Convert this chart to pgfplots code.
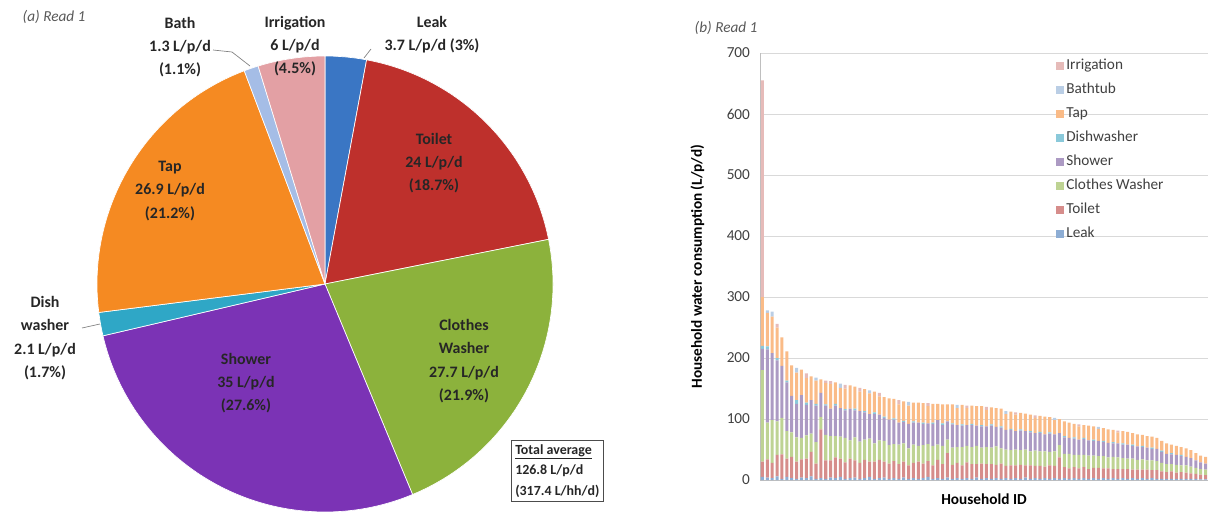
\documentclass[border=0pt]{standalone}
\usepackage{fontspec}
\setmainfont{Carlito}
\usepackage{pgfplots}
\usepackage{pgfplotstable}
\pgfplotsset{compat=1.18}

% pie colours
\definecolor{pLeak}{HTML}{3A76C4}
\definecolor{pToilet}{HTML}{BE302C}
\definecolor{pCW}{HTML}{8CB23C}
\definecolor{pShower}{HTML}{7B33B5}
\definecolor{pDish}{HTML}{2FA7C6}
\definecolor{pTap}{HTML}{F58A22}
\definecolor{pBath}{HTML}{A5BDE6}
\definecolor{pIrr}{HTML}{E3A0A4}
% bar colours
\definecolor{bLeak}{HTML}{4F81BD}
\definecolor{bToilet}{HTML}{C0504D}
\definecolor{bCW}{HTML}{9BBB59}
\definecolor{bShower}{HTML}{8064A2}
\definecolor{bDish}{HTML}{4BACC6}
\definecolor{bTap}{HTML}{F79646}
\definecolor{bBath}{HTML}{95B3D7}
\definecolor{bIrr}{HTML}{D99694}
\definecolor{gridgrey}{HTML}{D9D9D9}
\definecolor{axisgrey}{HTML}{BFBFBF}
\definecolor{tickgrey}{HTML}{404040}
\definecolor{labeltxt}{HTML}{262626}

% average use per end use, L/p/d
\def\vLeak{3.7}
\def\vToilet{24}
\def\vCW{27.7}
\def\vShower{35}
\def\vDish{2.1}
\def\vTap{26.9}
\def\vBath{1.3}
\def\vIrr{6}

% per household stacked use, L/p/d
\pgfplotstableread{
id leak toilet cw shower dish tap bath irr
1 5 25 150 35 5 80 0 355
2 4 30 60 120 5 55 4 0
3 3 25 70 110 0 60 8 0
4 6 35 55 100 4 50 0 6
5 2 40 60 85 0 47 0 0
6 5 30 45 80 3 48 0 0
7 3 35 40 60 0 50 0 0
8 2 28 40 55 6 45 8 0
9 4 30 35 70 0 42 0 0
10 3 32 38 50 4 40 0 8
11 6 40 30 55 0 39 0 0
12 2 25 35 60 3 38 5 0
13 3 80 20 40 0 22 0 0
14 2 30 42 48 2 35 0 4
15 4 28 40 45 0 40 0 5
16 3 34 35 50 3 35 0 0
17 5 30 36 47 0 33 7 0
18 2 27 40 45 2 34 0 6
19 3 32 30 52 0 38 0 0
20 4 28 38 44 3 36 0 0
21 2 26 35 50 0 32 0 6
22 3 30 33 45 2 36 0 0
23 5 25 38 40 0 34 5 0
24 2 28 30 48 3 34 0 0
25 3 30 32 42 0 30 0 6
26 4 26 34 38 2 32 0 0
27 2 25 30 42 0 35 0 0
28 3 28 28 40 2 32 0 0
29 2 24 32 36 0 30 0 7
30 4 26 30 35 2 32 0 0
31 2 22 28 40 0 30 6 0
32 3 25 30 36 2 31 0 0
33 2 28 26 38 0 33 0 0
34 3 24 30 35 2 32 0 0
35 5 26 28 34 0 28 0 5
36 2 22 32 36 2 31 0 0
37 3 30 25 40 0 27 0 0
38 2 24 30 34 3 31 0 0
39 4 40 22 30 0 28 0 0
40 2 23 28 38 2 31 0 0
41 3 25 26 36 0 28 5 0
42 2 22 30 35 2 32 0 0
43 3 26 27 34 0 28 0 4
44 2 24 28 36 2 30 0 0
45 4 22 30 33 0 32 0 0
46 2 25 26 35 2 31 0 0
47 3 23 28 34 0 27 0 5
48 2 24 27 36 2 28 0 0
49 3 22 30 32 0 31 0 0
50 2 25 25 34 2 29 0 0
51 3 20 27 32 0 26 5 0
52 2 22 25 33 2 28 0 0
53 3 21 26 30 0 27 0 4
54 2 23 24 32 2 27 0 0
55 4 20 26 30 0 29 0 0
56 2 22 23 31 2 27 0 0
57 3 20 25 29 0 25 0 4
58 2 21 24 30 2 26 0 0
59 3 19 25 28 0 29 0 0
60 2 22 22 30 2 25 0 0
61 3 20 24 28 0 23 4 0
62 2 35 20 20 0 23 0 0
63 3 18 22 27 2 24 0 0
64 2 17 24 26 0 25 0 0
65 3 18 20 27 2 22 0 0
66 2 17 22 25 0 22 0 3
67 3 18 20 26 2 21 0 0
68 2 16 22 25 0 24 0 0
69 3 17 20 24 2 22 0 0
70 2 18 19 25 0 20 3 0
71 3 16 20 23 2 21 0 0
72 2 17 18 24 0 22 0 0
73 3 15 20 22 2 20 0 0
74 2 16 19 23 0 18 0 3
75 3 15 18 22 2 20 0 0
76 2 16 17 23 0 21 0 0
77 3 14 18 21 2 19 0 0
78 2 15 16 22 0 20 0 0
79 3 14 17 20 2 18 0 0
80 2 15 15 21 0 19 0 0
81 3 13 16 19 2 18 0 0
82 2 14 15 20 0 18 0 0
83 2 12 14 18 2 16 0 0
84 2 11 13 17 0 17 0 0
85 2 12 12 16 2 14 0 0
86 2 10 13 16 0 15 0 0
87 2 11 11 15 2 13 0 0
88 2 10 12 14 0 14 0 0
89 2 9 11 14 0 13 0 0
90 2 8 10 12 0 12 0 0
91 1 8 9 11 0 11 0 0
92 1 7 9 10 0 11 0 0
}\households

\begin{document}
\begin{tikzpicture}
\path[use as bounding box] (0,0) rectangle (908.25bp,-384.75bp);

% slice boundaries, clockwise from 12 o'clock
\pgfmathsetmacro\tot{\vLeak+\vToilet+\vCW+\vShower+\vDish+\vTap+\vBath+\vIrr}
\pgfmathsetmacro\angA{90}
\pgfmathsetmacro\angB{\angA-360*\vLeak/\tot}
\pgfmathsetmacro\angC{\angB-360*\vToilet/\tot}
\pgfmathsetmacro\angD{\angC-360*\vCW/\tot}
\pgfmathsetmacro\angE{\angD-360*\vShower/\tot}
\pgfmathsetmacro\angF{\angE-360*\vDish/\tot}
\pgfmathsetmacro\angG{\angF-360*\vTap/\tot}
\pgfmathsetmacro\angH{\angG-360*\vBath/\tot}
\pgfmathsetmacro\angI{\angH-360*\vIrr/\tot}

% (a) pie
\begin{axis}[hide axis, x=171bp, y=171bp, xmin=-1, xmax=1, ymin=-1, ymax=1,
  at={(243.75bp,-213bp)}, anchor=center, clip=false]
  \fill[pLeak, draw=white, line width=0.5pt] (axis cs:0,0) -- ++(\angA:171bp) arc[start angle=\angA, end angle=\angB, radius=171bp] -- cycle;
  \fill[pToilet, draw=white, line width=0.5pt] (axis cs:0,0) -- ++(\angB:171bp) arc[start angle=\angB, end angle=\angC, radius=171bp] -- cycle;
  \fill[pCW, draw=white, line width=0.5pt] (axis cs:0,0) -- ++(\angC:171bp) arc[start angle=\angC, end angle=\angD, radius=171bp] -- cycle;
  \fill[pShower, draw=white, line width=0.5pt] (axis cs:0,0) -- ++(\angD:171bp) arc[start angle=\angD, end angle=\angE, radius=171bp] -- cycle;
  \fill[pDish, draw=white, line width=0.5pt] (axis cs:0,0) -- ++(\angE:171bp) arc[start angle=\angE, end angle=\angF, radius=171bp] -- cycle;
  \fill[pTap, draw=white, line width=0.5pt] (axis cs:0,0) -- ++(\angF:171bp) arc[start angle=\angF, end angle=\angG, radius=171bp] -- cycle;
  \fill[pBath, draw=white, line width=0.5pt] (axis cs:0,0) -- ++(\angG:171bp) arc[start angle=\angG, end angle=\angH, radius=171bp] -- cycle;
  \fill[pIrr, draw=white, line width=0.5pt] (axis cs:0,0) -- ++(\angH:171bp) arc[start angle=\angH, end angle=\angI, radius=171bp] -- cycle;
\end{axis}

% (b) stacked bars
\begin{axis}[
  at={(570bp,-360bp)}, anchor=south west,
  scale only axis, width=336bp, height=320.25bp,
  ybar stacked, bar width=0.62,
  xmin=0.5, xmax=92.5, ymin=0, ymax=700,
  ytick={0,100,...,700}, xtick=\empty,
  ymajorgrids, grid style={draw=gridgrey, line width=0.6pt},
  axis x line*=bottom, axis y line*=left,
  axis line style={draw=axisgrey, line width=0.6pt},
  y tick style={draw=none},
  /pgf/number format/assume math mode=true,
  tick label style={font=\fontsize{11.5}{13}\selectfont, text=tickgrey},
  yticklabel style={xshift=-4bp},
  ylabel={Household water consumption (L/p/d)},
  xlabel={Household ID},
  label style={font=\fontsize{11.5}{13}\selectfont\bfseries},
  ylabel style={at={(axis description cs:-0.14,0.5)}, anchor=center},
  xlabel style={at={(axis description cs:0.5,-0.045)}, anchor=center},
  reverse legend,
  legend image code/.code={\fill[#1, draw=none] (0bp,-3bp) rectangle (6bp,3bp);},
  legend style={at={(0.652,1.0)}, anchor=north west, draw=none, fill=none,
    font=\fontsize{11.5}{13}\selectfont, text=tickgrey, row sep=3bp,
    nodes={inner sep=1.5bp, text height=9bp, text depth=3bp},
    cells={anchor=west}},
]
  \addplot[fill=bLeak!65!white, draw=none] table[x=id, y=leak] {\households};
  \addplot[fill=bToilet!65!white, draw=none] table[x=id, y=toilet] {\households};
  \addplot[fill=bCW!65!white, draw=none] table[x=id, y=cw] {\households};
  \addplot[fill=bShower!65!white, draw=none] table[x=id, y=shower] {\households};
  \addplot[fill=bDish!65!white, draw=none] table[x=id, y=dish] {\households};
  \addplot[fill=bTap!65!white, draw=none] table[x=id, y=tap] {\households};
  \addplot[fill=bBath!65!white, draw=none] table[x=id, y=bath] {\households};
  \addplot[fill=bIrr!65!white, draw=none] table[x=id, y=irr] {\households};
  \legend{Leak, Toilet, Clothes Washer, Shower, Dishwasher, Tap, Bathtub, Irrigation}
\end{axis}

% labels, placed in reference pixels
\begin{scope}[x=0.75bp, y=-0.75bp]
  \node[anchor=west, font=\fontsize{11.5}{13}\selectfont\itshape, text=black!65] at (18,17) {(a) Read 1};
  \node[anchor=west, font=\fontsize{11.5}{13}\selectfont\itshape, text=black!65] at (690,28) {(b) Read 1};
  \begin{scope}[every node/.style={align=center, text=labeltxt, font=\fontsize{12}{17.5}\selectfont\bfseries}]
    \node at (180,47) {Bath\\1.3 L/p/d\\(1.1\%)};
    \node at (295,46) {Irrigation\\6 L/p/d\\(4.5\%)};
    \node at (432,35) {Leak\\3.7 L/p/d (3\%)};
    \node at (434,163) {Toilet\\24 L/p/d\\(18.7\%)};
    \node at (170,191) {Tap\\26.9 L/p/d\\(21.2\%)};
    \node at (45,338) {Dish\\washer\\2.1 L/p/d\\(1.7\%)};
    \node at (246,383) {Shower\\35 L/p/d\\(27.6\%)};
    \node at (464,361) {Clothes\\Washer\\27.7 L/p/d\\(21.9\%)};
  \end{scope}
  \draw[black!50, line width=0.5pt] (213,50) -- (232,52) -- (250,66);
  \draw[black!50, line width=0.5pt] (371,49) -- (364,58);
  \draw[black!50, line width=0.5pt] (82,328) -- (100,324);
  \node[draw=black!70, fill=white, anchor=north west, align=left, inner sep=3bp,
    font=\fontsize{10.5}{15.5}\selectfont\bfseries, text=labeltxt]
    at (511,440) {\underline{Total average}\\126.8 L/p/d\\(317.4 L/hh/d)};
\end{scope}
\end{tikzpicture}
\end{document}
